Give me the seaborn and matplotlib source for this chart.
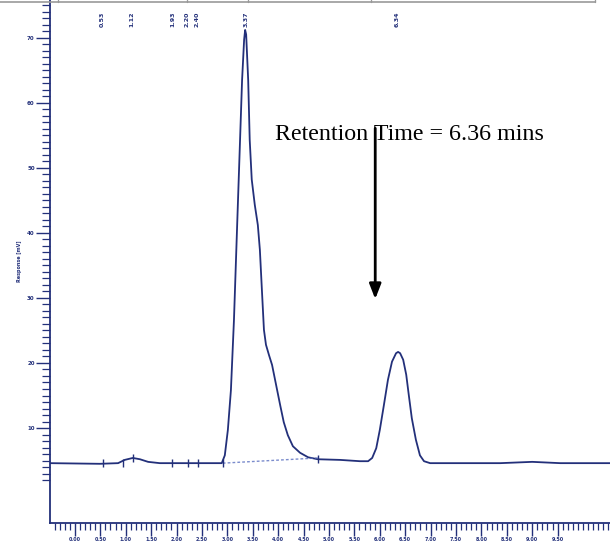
import matplotlib
matplotlib.use("Agg")
import matplotlib.pyplot as plt
import seaborn as sns
import pandas as pd
from matplotlib.lines import Line2D
from matplotlib.ticker import MultipleLocator, FixedLocator

# ---- data (time in min, response in mV) ----
time_min = [-0.49, 0.49, 0.85, 0.98, 1.14, 1.28, 1.44, 1.67, 2.46, 2.89, 2.95, 3.01, 3.07,
            3.13, 3.19, 3.25, 3.29, 3.33, 3.35, 3.37, 3.41, 3.44, 3.48, 3.54, 3.60, 3.64,
            3.68, 3.72, 3.76, 3.82, 3.88, 3.96, 4.04, 4.11, 4.19, 4.29, 4.43, 4.59, 4.78,
            5.22, 5.61, 5.77, 5.85, 5.93, 6.00, 6.08, 6.16, 6.24, 6.32, 6.36, 6.40, 6.46,
            6.52, 6.57, 6.63, 6.71, 6.79, 6.87, 6.99, 8.37, 9.00, 9.55, 10.53]
response_mv = [4.6, 4.5, 4.6, 5.1, 5.4, 5.2, 4.8, 4.6, 4.6, 4.6, 5.8, 9.7, 15.8,
               26.6, 40.5, 54.3, 63.5, 69.7, 71.2, 70.5, 63.5, 54.3, 48.2, 44.3, 41.2, 37.4,
               31.2, 25.1, 22.8, 21.2, 19.7, 16.6, 13.5, 10.9, 8.9, 7.2, 6.2, 5.5, 5.2,
               5.1, 4.9, 4.9, 5.4, 6.9, 9.7, 13.5, 17.4, 20.2, 21.5, 21.7, 21.5, 20.5,
               18.2, 15.1, 11.5, 8.2, 5.8, 4.9, 4.6, 4.6, 4.8, 4.6, 4.6]

peak_times = [0.53, 1.12, 1.93, 2.20, 2.40, 3.37, 6.34]
peak_labels = ["0.53", "1.12", "1.93", "2.20", "2.40", "3.37", "6.34"]
marker_times = [0.55, 0.94, 1.14, 1.91, 2.22, 2.42, 2.91, 4.78]
marker_resp = [4.6, 4.6, 5.4, 4.6, 4.6, 4.7, 4.6, 5.2]
integ_base_t = [2.91, 4.78]
integ_base_v = [4.6, 5.4]

x_ticks = [0.0, 0.5, 1.0, 1.5, 2.0, 2.5, 3.0, 3.5, 4.0, 4.5, 5.0, 5.5, 6.0, 6.5,
           7.0, 7.5, 8.0, 8.5, 9.0, 9.5]
x_tick_labels = ["0.00", "0.50", "1.00", "1.50", "2.00", "2.50", "3.00", "3.50", "4.00",
                 "4.50", "5.00", "5.50", "6.00", "6.50", "7.00", "7.50", "8.00", "8.50",
                 "9.00", "9.50"]
y_ticks = [10, 20, 30, 40, 50, 60, 70]
y_tick_labels = ["10", "20", "30", "40", "50", "60", "70"]
annotation = "Retention Time = 6.36 mins"
retention_time = 6.36

navy = "#23307a"

sns.set_style("white")
fig = plt.figure(figsize=(6.10, 5.44), dpi=100)
ax = fig.add_axes([50/610, 1 - 523/544, 560/610, 523/544])

df = pd.DataFrame({"t": time_min, "v": response_mv})
sns.lineplot(data=df, x="t", y="v", sort=False, estimator=None, color=navy,
             linewidth=1.3, ax=ax)
ax.plot(integ_base_t, integ_base_v, color="#5a6fc0", lw=1.0, ls=(0, (2, 1.5)), alpha=0.8)
ax.scatter(marker_times, marker_resp, marker="|", s=30, color=navy, linewidths=1.0, zorder=3)

ax.set_xlim(-0.49, 10.53)
ax.set_ylim(-4.6, 75.8)

for s in ["top", "right"]:
    ax.spines[s].set_visible(False)
ax.spines["left"].set_color(navy)
ax.spines["bottom"].set_color(navy)
ax.spines["left"].set_linewidth(1.3)
ax.spines["bottom"].set_linewidth(1.3)

ax.xaxis.set_major_locator(FixedLocator(x_ticks))
ax.set_xticklabels(x_tick_labels, fontsize=3.5, fontweight="bold", color=navy)
ax.xaxis.set_minor_locator(MultipleLocator(0.1))
ax.yaxis.set_major_locator(FixedLocator(y_ticks))
ax.set_yticklabels(y_tick_labels, fontsize=4, fontweight="bold", color=navy)
ax.yaxis.set_minor_locator(FixedLocator([v for v in range(2, 76)]))
ax.tick_params(axis="x", which="both", bottom=True)
ax.tick_params(axis="y", which="both", left=True)
ax.tick_params(axis="x", which="major", direction="out", length=9, width=1.0, color=navy, pad=1)
ax.tick_params(axis="x", which="minor", direction="out", length=5, width=0.9, color=navy)
ax.tick_params(axis="y", which="major", direction="out", length=10, width=1.0, color=navy, pad=1)
ax.tick_params(axis="y", which="minor", direction="out", length=6, width=0.9, color=navy)
ax.set_xlabel("")
ax.set_ylabel("Response [mV]", fontsize=3.5, fontweight="bold", color=navy, labelpad=4)

for t, lab in zip(peak_times, peak_labels):
    ax.text(t, 72.8, lab, rotation=90, ha="center", va="center", fontsize=4.5,
            fontweight="bold", color=navy)

ax.annotate("", xy=(5.91, 29.4), xytext=(5.91, 56.5),
            arrowprops=dict(arrowstyle="-|>,head_width=0.35,head_length=0.9",
                            color="black", lw=2))
ax.text(3.94, 55.1, annotation, fontsize=17.3, family="Liberation Serif",
        ha="left", va="center", color="black")

# table border remnant at the top edge
fig.add_artist(Line2D([0, 595/610], [1 - 2/544, 1 - 2/544], color="#999999", lw=1.2))
for xp in [58, 187, 248, 371]:
    fig.add_artist(Line2D([xp/610, xp/610], [1 - 2/544, 1.0], color="#999999", lw=1.0))
fig.add_artist(Line2D([595/610, 595/610], [1 - 2/544, 1.0], color="#999999", lw=1.0))

fig.savefig("out.png", dpi=100)
